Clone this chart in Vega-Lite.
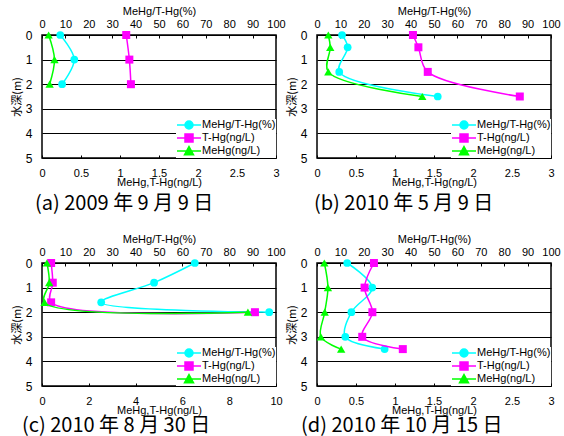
{
  "$schema": "https://vega.github.io/schema/vega-lite/v6.json",
  "background": "white",
  "padding": {"left": 10, "top": 4, "right": 0, "bottom": 0},
  "data": {"values": [
    {"p": "a", "s": "MeHg/T-Hg(%)", "d": 0, "v": 7.8},
    {"p": "a", "s": "MeHg/T-Hg(%)", "d": 1, "v": 13.8},
    {"p": "a", "s": "MeHg/T-Hg(%)", "d": 2, "v": 8.6},
    {"p": "a", "s": "T-Hg(ng/L)", "d": 0, "v": 1.08},
    {"p": "a", "s": "T-Hg(ng/L)", "d": 1, "v": 1.12},
    {"p": "a", "s": "T-Hg(ng/L)", "d": 2, "v": 1.14},
    {"p": "a", "s": "MeHg(ng/L)", "d": 0, "v": 0.085},
    {"p": "a", "s": "MeHg(ng/L)", "d": 1, "v": 0.16},
    {"p": "a", "s": "MeHg(ng/L)", "d": 2, "v": 0.098},
    {"p": "b", "s": "MeHg/T-Hg(%)", "d": 0, "v": 10.7},
    {"p": "b", "s": "MeHg/T-Hg(%)", "d": 0.5, "v": 13.1},
    {"p": "b", "s": "MeHg/T-Hg(%)", "d": 1.5, "v": 9.5},
    {"p": "b", "s": "MeHg/T-Hg(%)", "d": 2.5, "v": 51.6},
    {"p": "b", "s": "T-Hg(ng/L)", "d": 0, "v": 1.23},
    {"p": "b", "s": "T-Hg(ng/L)", "d": 0.5, "v": 1.3},
    {"p": "b", "s": "T-Hg(ng/L)", "d": 1.5, "v": 1.42},
    {"p": "b", "s": "T-Hg(ng/L)", "d": 2.5, "v": 2.6},
    {"p": "b", "s": "MeHg(ng/L)", "d": 0, "v": 0.145},
    {"p": "b", "s": "MeHg(ng/L)", "d": 0.5, "v": 0.17},
    {"p": "b", "s": "MeHg(ng/L)", "d": 1.5, "v": 0.145},
    {"p": "b", "s": "MeHg(ng/L)", "d": 2.5, "v": 1.35},
    {"p": "c", "s": "MeHg/T-Hg(%)", "d": 0, "v": 65.3},
    {"p": "c", "s": "MeHg/T-Hg(%)", "d": 0.8, "v": 47.9},
    {"p": "c", "s": "MeHg/T-Hg(%)", "d": 1.6, "v": 25.3},
    {"p": "c", "s": "MeHg/T-Hg(%)", "d": 2.0, "v": 97.1},
    {"p": "c", "s": "T-Hg(ng/L)", "d": 0, "v": 0.39},
    {"p": "c", "s": "T-Hg(ng/L)", "d": 0.8, "v": 0.46},
    {"p": "c", "s": "T-Hg(ng/L)", "d": 1.6, "v": 0.39},
    {"p": "c", "s": "T-Hg(ng/L)", "d": 2.0, "v": 9.1},
    {"p": "c", "s": "MeHg(ng/L)", "d": 0, "v": 0.21},
    {"p": "c", "s": "MeHg(ng/L)", "d": 0.8, "v": 0.31},
    {"p": "c", "s": "MeHg(ng/L)", "d": 1.6, "v": 0.11},
    {"p": "c", "s": "MeHg(ng/L)", "d": 2.0, "v": 8.8},
    {"p": "d", "s": "MeHg/T-Hg(%)", "d": 0, "v": 12.9},
    {"p": "d", "s": "MeHg/T-Hg(%)", "d": 1, "v": 23.6},
    {"p": "d", "s": "MeHg/T-Hg(%)", "d": 2, "v": 14.7},
    {"p": "d", "s": "MeHg/T-Hg(%)", "d": 3, "v": 12.1},
    {"p": "d", "s": "MeHg/T-Hg(%)", "d": 3.5, "v": 28.9},
    {"p": "d", "s": "T-Hg(ng/L)", "d": 0, "v": 0.73},
    {"p": "d", "s": "T-Hg(ng/L)", "d": 1, "v": 0.61},
    {"p": "d", "s": "T-Hg(ng/L)", "d": 2, "v": 0.71},
    {"p": "d", "s": "T-Hg(ng/L)", "d": 3, "v": 0.58},
    {"p": "d", "s": "T-Hg(ng/L)", "d": 3.5, "v": 1.1},
    {"p": "d", "s": "MeHg(ng/L)", "d": 0, "v": 0.094},
    {"p": "d", "s": "MeHg(ng/L)", "d": 1, "v": 0.14},
    {"p": "d", "s": "MeHg(ng/L)", "d": 2, "v": 0.099},
    {"p": "d", "s": "MeHg(ng/L)", "d": 3, "v": 0.05},
    {"p": "d", "s": "MeHg(ng/L)", "d": 3.5, "v": 0.31}
  ]},
  "columns": 2,
  "spacing": {"row": 105, "column": 41},
  "bounds": "flush",
  "resolve": {"scale": {"fill": "independent", "stroke": "independent", "shape": "independent"}, "legend": {"fill": "independent", "stroke": "independent", "shape": "independent"}},
  "config": {
    "view": {"stroke": "black", "strokeWidth": 1.5},
    "axis": {"labelFont": "Liberation Sans", "labelFontSize": 11, "labelColor": "black", "titleFont": "Liberation Sans", "titleFontSize": 11, "titleFontWeight": "normal", "titleColor": "black", "domain": false, "tickColor": "black", "labelOverlap": false, "labelFlush": false},
    "axisX": {"grid": false, "tickSize": -3, "format": ".1~f"},
    "axisTop": {"labelPadding": 9, "titlePadding": 2},
    "axisBottom": {"labelPadding": 12, "titlePadding": -2},
    "axisY": {"grid": true, "gridColor": "black", "gridOpacity": 1, "gridWidth": 1, "ticks": false, "labelPadding": 10, "labelFontSize": 12, "titleFont": "Noto Sans CJK JP", "titlePadding": 3},
    "legend": {"orient": "bottom-right", "offset": 0, "padding": 0, "fillColor": "white", "symbolSize": 100, "symbolStrokeWidth": 1.5, "symbolOpacity": 1, "labelFont": "Liberation Sans", "labelFontSize": 11, "labelColor": "black", "labelOffset": 14, "rowPadding": -2},
    "title": {"font": "Noto Sans CJK JP", "fontSize": 20, "fontWeight": "normal", "color": "black", "orient": "bottom", "anchor": "start", "frame": "group", "offset": 3}
  },
  "concat": [
    {
      "width": 234, "height": 123,
      "title": {"text": "(a) 2009 年 9 月 9 日", "dx": -7, "offset": 7},
      "transform": [{"filter": "datum.p === 'a'"}],
      "encoding": {"y": {"field": "d", "type": "quantitative", "scale": {"domain": [0, 5], "reverse": true, "nice": false}, "axis": {"title": "水深(m)", "values": [0, 1, 2, 3, 4, 5]}}},
      "layer": [
        {
          "transform": [{"filter": "datum.s === 'MeHg/T-Hg(%)'"}],
          "encoding": {"x": {"field": "v", "type": "quantitative", "scale": {"domain": [0, 100], "nice": false}, "axis": {"orient": "top", "title": "MeHg/T-Hg(%)", "values": [0, 10, 20, 30, 40, 50, 60, 70, 80, 90, 100]}}},
          "layer": [
            {"mark": {"type": "line", "interpolate": "catmull-rom", "color": "#00FFFF", "strokeWidth": 1.5}, "encoding": {"order": {"field": "d", "type": "quantitative"}}},
            {"mark": {"type": "point", "shape": "circle", "filled": true, "color": "#00FFFF", "size": 60, "opacity": 1}}
          ]
        },
        {
          "transform": [{"filter": "datum.s !== 'MeHg/T-Hg(%)'"}],
          "encoding": {"x": {"field": "v", "type": "quantitative", "scale": {"domain": [0, 3], "nice": false}, "axis": {"orient": "bottom", "title": "MeHg,T-Hg(ng/L)", "values": [0, 0.5, 1, 1.5, 2, 2.5, 3]}}},
          "layer": [
            {"transform": [{"filter": "datum.s === 'T-Hg(ng/L)'"}], "mark": {"type": "line", "interpolate": "catmull-rom", "color": "#FF00FF", "strokeWidth": 1.5}, "encoding": {"order": {"field": "d", "type": "quantitative"}}},
            {"transform": [{"filter": "datum.s === 'T-Hg(ng/L)'"}], "mark": {"type": "point", "shape": "square", "filled": true, "color": "#FF00FF", "size": 64, "opacity": 1}},
            {"transform": [{"filter": "datum.s === 'MeHg(ng/L)'"}], "mark": {"type": "line", "interpolate": "catmull-rom", "color": "#00FF00", "strokeWidth": 1.5}, "encoding": {"order": {"field": "d", "type": "quantitative"}}},
            {"transform": [{"filter": "datum.s === 'MeHg(ng/L)'"}], "mark": {"type": "point", "shape": "triangle-up", "filled": true, "color": "#00FF00", "size": 70, "opacity": 1}},
            {"mark": {"type": "point", "filled": true, "opacity": 0, "size": 10},
             "encoding": {
               "fill": {"field": "s", "type": "nominal", "scale": {"domain": ["MeHg/T-Hg(%)", "T-Hg(ng/L)", "MeHg(ng/L)"], "range": ["#00FFFF", "#FF00FF", "#00FF00"]}, "legend": {"title": null}},
               "stroke": {"field": "s", "type": "nominal", "scale": {"domain": ["MeHg/T-Hg(%)", "T-Hg(ng/L)", "MeHg(ng/L)"], "range": ["#00FFFF", "#FF00FF", "#00FF00"]}, "legend": {"title": null}},
               "shape": {"field": "s", "type": "nominal", "scale": {"domain": ["MeHg/T-Hg(%)", "T-Hg(ng/L)", "MeHg(ng/L)"], "range": ["M-1,0H3.8M2.2,0A0.8,0.8,0,1,1,0.6,0A0.8,0.8,0,1,1,2.2,0Z", "M-1,0H3.8M0.6,-0.8H2.2V0.8H0.6Z", "M-1,0H3.8M1.4,-0.9L2.3,0.75H0.5Z"]}, "legend": {"title": null}}
             }}
          ]
        }
      ],
      "resolve": {"scale": {"x": "independent"}}
    },
    {
      "width": 234, "height": 123,
      "title": {"text": "(b) 2010 年 5 月 9 日", "dx": -3, "offset": 7},
      "transform": [{"filter": "datum.p === 'b'"}],
      "encoding": {"y": {"field": "d", "type": "quantitative", "scale": {"domain": [0, 5], "reverse": true, "nice": false}, "axis": {"title": "水深(m)", "values": [0, 1, 2, 3, 4, 5]}}},
      "layer": [
        {
          "transform": [{"filter": "datum.s === 'MeHg/T-Hg(%)'"}],
          "encoding": {"x": {"field": "v", "type": "quantitative", "scale": {"domain": [0, 100], "nice": false}, "axis": {"orient": "top", "title": "MeHg/T-Hg(%)", "values": [0, 10, 20, 30, 40, 50, 60, 70, 80, 90, 100]}}},
          "layer": [
            {"mark": {"type": "line", "interpolate": "catmull-rom", "color": "#00FFFF", "strokeWidth": 1.5}, "encoding": {"order": {"field": "d", "type": "quantitative"}}},
            {"mark": {"type": "point", "shape": "circle", "filled": true, "color": "#00FFFF", "size": 60, "opacity": 1}}
          ]
        },
        {
          "transform": [{"filter": "datum.s !== 'MeHg/T-Hg(%)'"}],
          "encoding": {"x": {"field": "v", "type": "quantitative", "scale": {"domain": [0, 3], "nice": false}, "axis": {"orient": "bottom", "title": "MeHg,T-Hg(ng/L)", "values": [0, 0.5, 1, 1.5, 2, 2.5, 3]}}},
          "layer": [
            {"transform": [{"filter": "datum.s === 'T-Hg(ng/L)'"}], "mark": {"type": "line", "interpolate": "catmull-rom", "color": "#FF00FF", "strokeWidth": 1.5}, "encoding": {"order": {"field": "d", "type": "quantitative"}}},
            {"transform": [{"filter": "datum.s === 'T-Hg(ng/L)'"}], "mark": {"type": "point", "shape": "square", "filled": true, "color": "#FF00FF", "size": 64, "opacity": 1}},
            {"transform": [{"filter": "datum.s === 'MeHg(ng/L)'"}], "mark": {"type": "line", "interpolate": "catmull-rom", "color": "#00FF00", "strokeWidth": 1.5}, "encoding": {"order": {"field": "d", "type": "quantitative"}}},
            {"transform": [{"filter": "datum.s === 'MeHg(ng/L)'"}], "mark": {"type": "point", "shape": "triangle-up", "filled": true, "color": "#00FF00", "size": 70, "opacity": 1}},
            {"mark": {"type": "point", "filled": true, "opacity": 0, "size": 10},
             "encoding": {
               "fill": {"field": "s", "type": "nominal", "scale": {"domain": ["MeHg/T-Hg(%)", "T-Hg(ng/L)", "MeHg(ng/L)"], "range": ["#00FFFF", "#FF00FF", "#00FF00"]}, "legend": {"title": null}},
               "stroke": {"field": "s", "type": "nominal", "scale": {"domain": ["MeHg/T-Hg(%)", "T-Hg(ng/L)", "MeHg(ng/L)"], "range": ["#00FFFF", "#FF00FF", "#00FF00"]}, "legend": {"title": null}},
               "shape": {"field": "s", "type": "nominal", "scale": {"domain": ["MeHg/T-Hg(%)", "T-Hg(ng/L)", "MeHg(ng/L)"], "range": ["M-1,0H3.8M2.2,0A0.8,0.8,0,1,1,0.6,0A0.8,0.8,0,1,1,2.2,0Z", "M-1,0H3.8M0.6,-0.8H2.2V0.8H0.6Z", "M-1,0H3.8M1.4,-0.9L2.3,0.75H0.5Z"]}, "legend": {"title": null}}
             }}
          ]
        }
      ],
      "resolve": {"scale": {"x": "independent"}}
    },
    {
      "width": 234, "height": 123,
      "title": {"text": "(c) 2010 年 8 月 30 日", "dx": -20, "offset": 1},
      "transform": [{"filter": "datum.p === 'c'"}],
      "encoding": {"y": {"field": "d", "type": "quantitative", "scale": {"domain": [0, 5], "reverse": true, "nice": false}, "axis": {"title": "水深(m)", "values": [0, 1, 2, 3, 4, 5]}}},
      "layer": [
        {
          "transform": [{"filter": "datum.s === 'MeHg/T-Hg(%)'"}],
          "encoding": {"x": {"field": "v", "type": "quantitative", "scale": {"domain": [0, 100], "nice": false}, "axis": {"orient": "top", "title": "MeHg/T-Hg(%)", "values": [0, 10, 20, 30, 40, 50, 60, 70, 80, 90, 100]}}},
          "layer": [
            {"mark": {"type": "line", "interpolate": "catmull-rom", "color": "#00FFFF", "strokeWidth": 1.5}, "encoding": {"order": {"field": "d", "type": "quantitative"}}},
            {"mark": {"type": "point", "shape": "circle", "filled": true, "color": "#00FFFF", "size": 60, "opacity": 1}}
          ]
        },
        {
          "transform": [{"filter": "datum.s !== 'MeHg/T-Hg(%)'"}],
          "encoding": {"x": {"field": "v", "type": "quantitative", "scale": {"domain": [0, 10], "nice": false}, "axis": {"orient": "bottom", "title": "MeHg,T-Hg(ng/L)", "values": [0, 2, 4, 6, 8, 10]}}},
          "layer": [
            {"transform": [{"filter": "datum.s === 'T-Hg(ng/L)'"}], "mark": {"type": "line", "interpolate": "catmull-rom", "color": "#FF00FF", "strokeWidth": 1.5}, "encoding": {"order": {"field": "d", "type": "quantitative"}}},
            {"transform": [{"filter": "datum.s === 'T-Hg(ng/L)'"}], "mark": {"type": "point", "shape": "square", "filled": true, "color": "#FF00FF", "size": 64, "opacity": 1}},
            {"transform": [{"filter": "datum.s === 'MeHg(ng/L)'"}], "mark": {"type": "line", "interpolate": "catmull-rom", "color": "#00FF00", "strokeWidth": 1.5}, "encoding": {"order": {"field": "d", "type": "quantitative"}}},
            {"transform": [{"filter": "datum.s === 'MeHg(ng/L)'"}], "mark": {"type": "point", "shape": "triangle-up", "filled": true, "color": "#00FF00", "size": 70, "opacity": 1}},
            {"mark": {"type": "point", "filled": true, "opacity": 0, "size": 10},
             "encoding": {
               "fill": {"field": "s", "type": "nominal", "scale": {"domain": ["MeHg/T-Hg(%)", "T-Hg(ng/L)", "MeHg(ng/L)"], "range": ["#00FFFF", "#FF00FF", "#00FF00"]}, "legend": {"title": null}},
               "stroke": {"field": "s", "type": "nominal", "scale": {"domain": ["MeHg/T-Hg(%)", "T-Hg(ng/L)", "MeHg(ng/L)"], "range": ["#00FFFF", "#FF00FF", "#00FF00"]}, "legend": {"title": null}},
               "shape": {"field": "s", "type": "nominal", "scale": {"domain": ["MeHg/T-Hg(%)", "T-Hg(ng/L)", "MeHg(ng/L)"], "range": ["M-1,0H3.8M2.2,0A0.8,0.8,0,1,1,0.6,0A0.8,0.8,0,1,1,2.2,0Z", "M-1,0H3.8M0.6,-0.8H2.2V0.8H0.6Z", "M-1,0H3.8M1.4,-0.9L2.3,0.75H0.5Z"]}, "legend": {"title": null}}
             }}
          ]
        }
      ],
      "resolve": {"scale": {"x": "independent"}}
    },
    {
      "width": 234, "height": 123,
      "title": {"text": "(d) 2010 年 10 月 15 日", "dx": -16, "offset": 1},
      "transform": [{"filter": "datum.p === 'd'"}],
      "encoding": {"y": {"field": "d", "type": "quantitative", "scale": {"domain": [0, 5], "reverse": true, "nice": false}, "axis": {"title": "水深(m)", "values": [0, 1, 2, 3, 4, 5]}}},
      "layer": [
        {
          "transform": [{"filter": "datum.s === 'MeHg/T-Hg(%)'"}],
          "encoding": {"x": {"field": "v", "type": "quantitative", "scale": {"domain": [0, 100], "nice": false}, "axis": {"orient": "top", "title": "MeHg/T-Hg(%)", "values": [0, 10, 20, 30, 40, 50, 60, 70, 80, 90, 100]}}},
          "layer": [
            {"mark": {"type": "line", "interpolate": "catmull-rom", "color": "#00FFFF", "strokeWidth": 1.5}, "encoding": {"order": {"field": "d", "type": "quantitative"}}},
            {"mark": {"type": "point", "shape": "circle", "filled": true, "color": "#00FFFF", "size": 60, "opacity": 1}}
          ]
        },
        {
          "transform": [{"filter": "datum.s !== 'MeHg/T-Hg(%)'"}],
          "encoding": {"x": {"field": "v", "type": "quantitative", "scale": {"domain": [0, 3], "nice": false}, "axis": {"orient": "bottom", "title": "MeHg,T-Hg(ng/L)", "values": [0, 0.5, 1, 1.5, 2, 2.5, 3]}}},
          "layer": [
            {"transform": [{"filter": "datum.s === 'T-Hg(ng/L)'"}], "mark": {"type": "line", "interpolate": "catmull-rom", "color": "#FF00FF", "strokeWidth": 1.5}, "encoding": {"order": {"field": "d", "type": "quantitative"}}},
            {"transform": [{"filter": "datum.s === 'T-Hg(ng/L)'"}], "mark": {"type": "point", "shape": "square", "filled": true, "color": "#FF00FF", "size": 64, "opacity": 1}},
            {"transform": [{"filter": "datum.s === 'MeHg(ng/L)'"}], "mark": {"type": "line", "interpolate": "catmull-rom", "color": "#00FF00", "strokeWidth": 1.5}, "encoding": {"order": {"field": "d", "type": "quantitative"}}},
            {"transform": [{"filter": "datum.s === 'MeHg(ng/L)'"}], "mark": {"type": "point", "shape": "triangle-up", "filled": true, "color": "#00FF00", "size": 70, "opacity": 1}},
            {"mark": {"type": "point", "filled": true, "opacity": 0, "size": 10},
             "encoding": {
               "fill": {"field": "s", "type": "nominal", "scale": {"domain": ["MeHg/T-Hg(%)", "T-Hg(ng/L)", "MeHg(ng/L)"], "range": ["#00FFFF", "#FF00FF", "#00FF00"]}, "legend": {"title": null}},
               "stroke": {"field": "s", "type": "nominal", "scale": {"domain": ["MeHg/T-Hg(%)", "T-Hg(ng/L)", "MeHg(ng/L)"], "range": ["#00FFFF", "#FF00FF", "#00FF00"]}, "legend": {"title": null}},
               "shape": {"field": "s", "type": "nominal", "scale": {"domain": ["MeHg/T-Hg(%)", "T-Hg(ng/L)", "MeHg(ng/L)"], "range": ["M-1,0H3.8M2.2,0A0.8,0.8,0,1,1,0.6,0A0.8,0.8,0,1,1,2.2,0Z", "M-1,0H3.8M0.6,-0.8H2.2V0.8H0.6Z", "M-1,0H3.8M1.4,-0.9L2.3,0.75H0.5Z"]}, "legend": {"title": null}}
             }}
          ]
        }
      ],
      "resolve": {"scale": {"x": "independent"}}
    }
  ]
}
